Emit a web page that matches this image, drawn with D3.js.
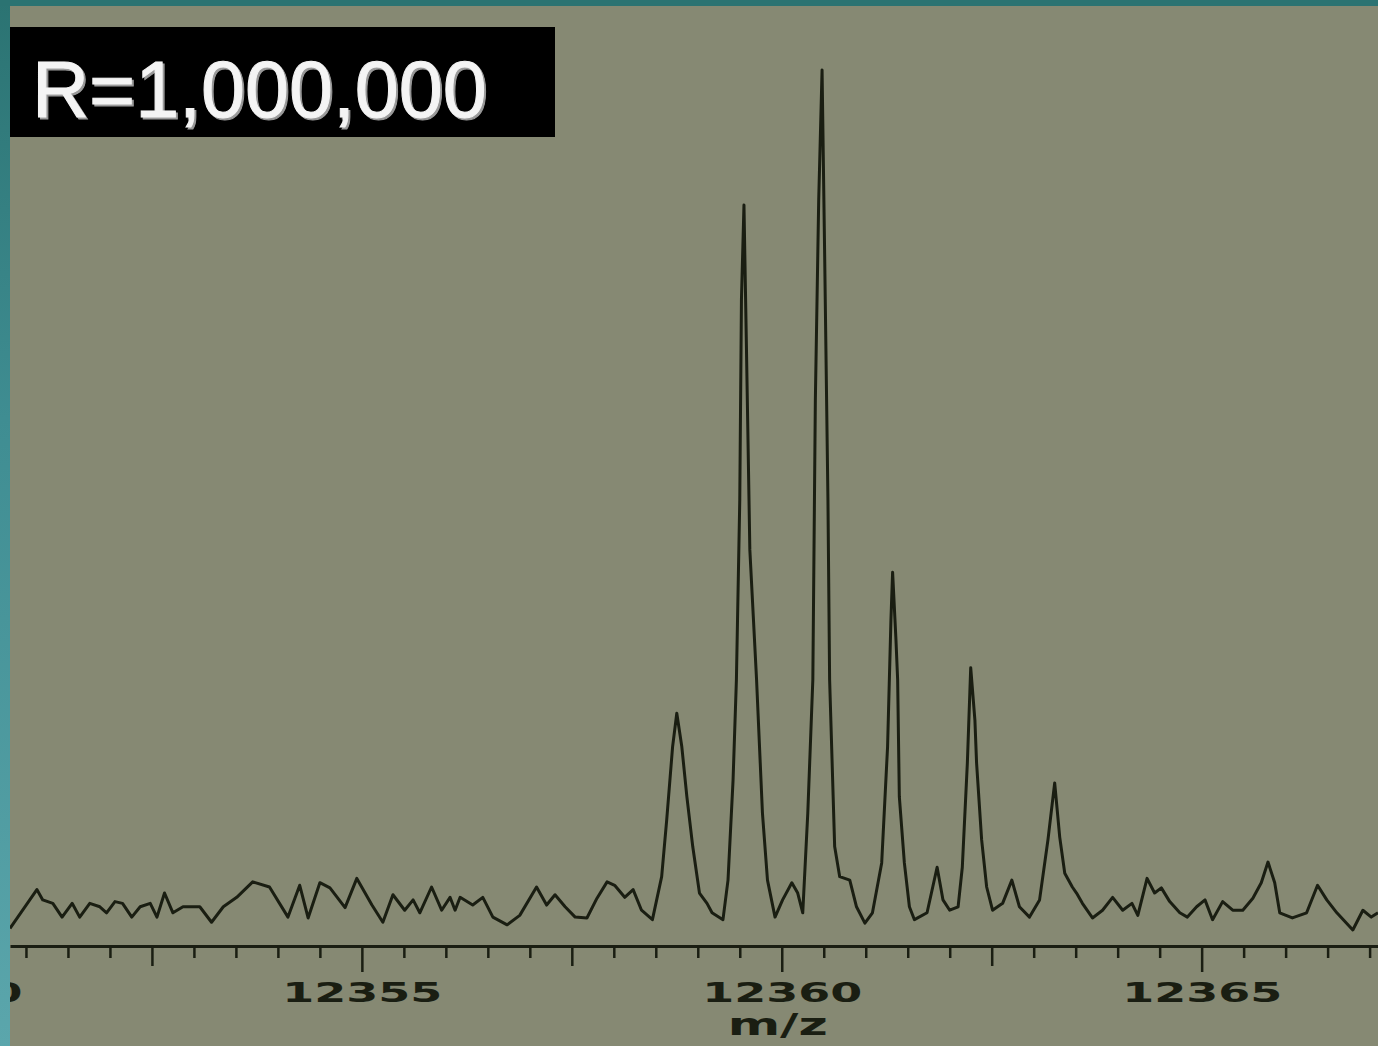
<!DOCTYPE html>
<html>
<head>
<meta charset="utf-8">
<script src="https://cdn.jsdelivr.net/npm/d3@7"></script>
<style>
  html, body { margin: 0; padding: 0; background: #868973; }
  svg { display: block; }
</style>
</head>
<body>
<svg id="chart" width="1378" height="1046"></svg>
<script>
// Spectrum trace: m/z and relative intensity.
const mzValues = [
  12350.81, 12351.13, 12351.20, 12351.32, 12351.43, 12351.55, 12351.64, 12351.76, 12351.88, 12351.96,
  12352.06, 12352.15, 12352.26, 12352.36, 12352.48, 12352.56, 12352.65, 12352.75, 12352.87, 12353.07,
  12353.21, 12353.35, 12353.51, 12353.70, 12353.90, 12354.12, 12354.26, 12354.36, 12354.50, 12354.62,
  12354.80, 12354.94, 12355.12, 12355.25, 12355.37, 12355.51, 12355.61, 12355.69, 12355.83, 12355.95,
  12356.05, 12356.11, 12356.17, 12356.32, 12356.44, 12356.56, 12356.73, 12356.88, 12357.08, 12357.20,
  12357.30, 12357.42, 12357.54, 12357.68, 12357.80, 12357.92, 12358.01, 12358.13, 12358.23, 12358.33,
  12358.46, 12358.57, 12358.63, 12358.70, 12358.75, 12358.81, 12358.87, 12358.94, 12359.02, 12359.11,
  12359.17, 12359.30, 12359.36, 12359.42, 12359.46, 12359.50, 12359.52, 12359.55, 12359.58, 12359.62,
  12359.70, 12359.77, 12359.83, 12359.92, 12360.01, 12360.12, 12360.19, 12360.25, 12360.31, 12360.37,
  12360.40, 12360.44, 12360.48, 12360.51, 12360.55, 12360.57, 12360.63, 12360.69, 12360.81, 12360.89,
  12360.99, 12361.08, 12361.19, 12361.26, 12361.30, 12361.32, 12361.36, 12361.38, 12361.40, 12361.46,
  12361.52, 12361.58, 12361.73, 12361.85, 12361.92, 12362.00, 12362.10, 12362.15, 12362.21, 12362.25,
  12362.30, 12362.32, 12362.38, 12362.44, 12362.51, 12362.63, 12362.74, 12362.83, 12362.95, 12363.07,
  12363.17, 12363.25, 12363.31, 12363.37, 12363.46, 12363.51, 12363.58, 12363.70, 12363.82, 12363.94,
  12364.06, 12364.17, 12364.24, 12364.35, 12364.44, 12364.52, 12364.62, 12364.74, 12364.83, 12364.94,
  12365.04, 12365.13, 12365.25, 12365.37, 12365.49, 12365.61, 12365.71, 12365.79, 12365.87, 12365.93,
  12366.08, 12366.25, 12366.38, 12366.49, 12366.61, 12366.80, 12366.92, 12367.02, 12367.10
];
const intensityValues = [
  0.2, 4.7, 3.5, 3.1, 1.5, 3.1, 1.5, 3.1, 2.7, 2.0,
  3.3, 3.1, 1.5, 2.7, 3.1, 1.5, 4.3, 2.0, 2.7, 2.7,
  0.9, 2.7, 3.8, 5.6, 5.0, 1.5, 5.2, 1.4, 5.5, 4.9,
  2.6, 6.0, 2.9, 0.9, 4.1, 2.3, 3.5, 2.0, 5.0, 2.3,
  3.8, 2.3, 3.8, 2.9, 3.8, 1.5, 0.6, 1.7, 5.0, 2.9,
  4.1, 2.7, 1.5, 1.4, 3.7, 5.6, 5.2, 3.8, 4.7, 2.3,
  1.2, 6.2, 12.8, 21.3, 25.2, 21.3, 15.5, 9.7, 4.3, 3.1,
  2.0, 1.2, 5.8, 17.4, 29.1, 50.0, 73.3, 84.3, 67.4, 44.2,
  29.1, 13.6, 5.8, 1.5, 3.5, 5.5, 4.3, 2.0, 13.6, 29.1,
  61.6, 84.9, 100, 79.1, 50.0, 29.1, 9.7, 6.2, 5.8, 2.7,
  0.8, 2.0, 7.8, 21.3, 36.0, 41.6, 33.7, 29.1, 15.5, 7.8,
  2.7, 1.2, 2.0, 7.3, 3.5, 2.3, 2.7, 7.3, 19.4, 30.5,
  24.4, 19.4, 10.5, 5.0, 2.3, 3.1, 5.8, 2.7, 1.5, 3.5,
  10.5, 17.1, 10.8, 6.6, 5.0, 4.3, 3.1, 1.4, 2.3, 3.8,
  2.3, 3.1, 1.7, 6.0, 4.3, 4.9, 3.3, 2.0, 1.5, 2.7,
  3.5, 1.2, 3.3, 2.3, 2.3, 3.7, 5.5, 7.9, 5.5, 2.0,
  1.4, 2.0, 5.2, 3.5, 2.0, 0.0, 2.3, 1.5, 2.0
];
const mzDomain = [12350.81, 12367.10];
const tickLabelValues = [12350, 12355, 12360, 12365];
const axisTitle = "m/z";
const resolutionLabel = "R=1,000,000";

const width = 1378, height = 1046;
const ink = "#1a1e12";
const svg = d3.select("#chart");

// Page background.
svg.append("rect").attr("width", width).attr("height", height).attr("fill", "#868973");

const x = d3.scaleLinear().domain(mzDomain).range([10, width]);
const y = d3.scaleLinear().domain([0, 100]).range([930, 70]);
const axisY = 946;

// Axis with ticks every 0.5, longer every 2.5 and 5.
const allTicks = d3.range(12350, 12367.5, 0.5);
const axis = d3.axisBottom(x)
  .tickValues(allTicks)
  .tickSize(12)
  .tickSizeOuter(0)
  .tickFormat((d) => (tickLabelValues.includes(d) ? d3.format("d")(d) : ""));

const gAxis = svg.append("g")
  .attr("transform", `translate(0,${axisY})`)
  .call(axis);

gAxis.select(".domain").attr("stroke", ink).attr("stroke-width", 3);
gAxis.selectAll(".tick line")
  .attr("stroke", ink)
  .attr("stroke-width", 2.5)
  .attr("y2", (d) => (d % 5 === 0 ? 26 : d % 2.5 === 0 ? 20 : 12));
gAxis.selectAll(".tick text")
  .attr("fill", ink)
  .attr("y", 56)
  .attr("dy", 0)
  .attr("font-family", "DejaVu Sans")
  .attr("font-weight", "bold")
  .attr("font-size", 27)
  .attr("textLength", (d) => (tickLabelValues.includes(d) ? 160 : null))
  .attr("lengthAdjust", "spacingAndGlyphs");

svg.append("text")
  .attr("x", x(12360) - 4)
  .attr("y", 1035)
  .attr("text-anchor", "middle")
  .attr("fill", ink)
  .attr("font-family", "DejaVu Sans")
  .attr("font-weight", "bold")
  .attr("font-size", 30)
  .attr("textLength", 100)
  .attr("lengthAdjust", "spacingAndGlyphs")
  .text(axisTitle);

// The spectrum line.
const points = mzValues.map((m, i) => [m, intensityValues[i]]);
const line = d3.line()
  .x((d) => x(d[0]))
  .y((d) => y(d[1]));

svg.append("path")
  .datum(points)
  .attr("d", line)
  .attr("fill", "none")
  .attr("stroke", ink)
  .attr("stroke-width", 3)
  .attr("stroke-linejoin", "round");

// Resolution label box.
svg.append("rect")
  .attr("x", 10).attr("y", 27)
  .attr("width", 545).attr("height", 110)
  .attr("fill", "#000");
svg.append("text")
  .attr("x", 34).attr("y", 119)
  .attr("font-family", "Liberation Sans")
  .attr("font-size", 79)
  .attr("fill", "#9a9a9a")
  .attr("stroke", "#9a9a9a")
  .attr("stroke-width", 1)
  .text(resolutionLabel);
svg.append("text")
  .attr("x", 32).attr("y", 117)
  .attr("font-family", "Liberation Sans")
  .attr("font-size", 79)
  .attr("fill", "#f4f4f4")
  .attr("stroke", "#f4f4f4")
  .attr("stroke-width", 1)
  .text(resolutionLabel);

// Teal slide frame on top and left.
const grad = svg.append("defs").append("linearGradient")
  .attr("id", "leftEdge").attr("x1", 0).attr("y1", 0).attr("x2", 0).attr("y2", 1);
grad.append("stop").attr("offset", "0%").attr("stop-color", "#2b7372");
grad.append("stop").attr("offset", "40%").attr("stop-color", "#3f8d92");
grad.append("stop").attr("offset", "100%").attr("stop-color", "#5ba6ac");
svg.append("rect").attr("x", 0).attr("y", 0).attr("width", 10).attr("height", height)
  .attr("fill", "url(#leftEdge)");
svg.append("rect").attr("x", 0).attr("y", 0).attr("width", width).attr("height", 6)
  .attr("fill", "#2b7372");
</script>
</body>
</html>
